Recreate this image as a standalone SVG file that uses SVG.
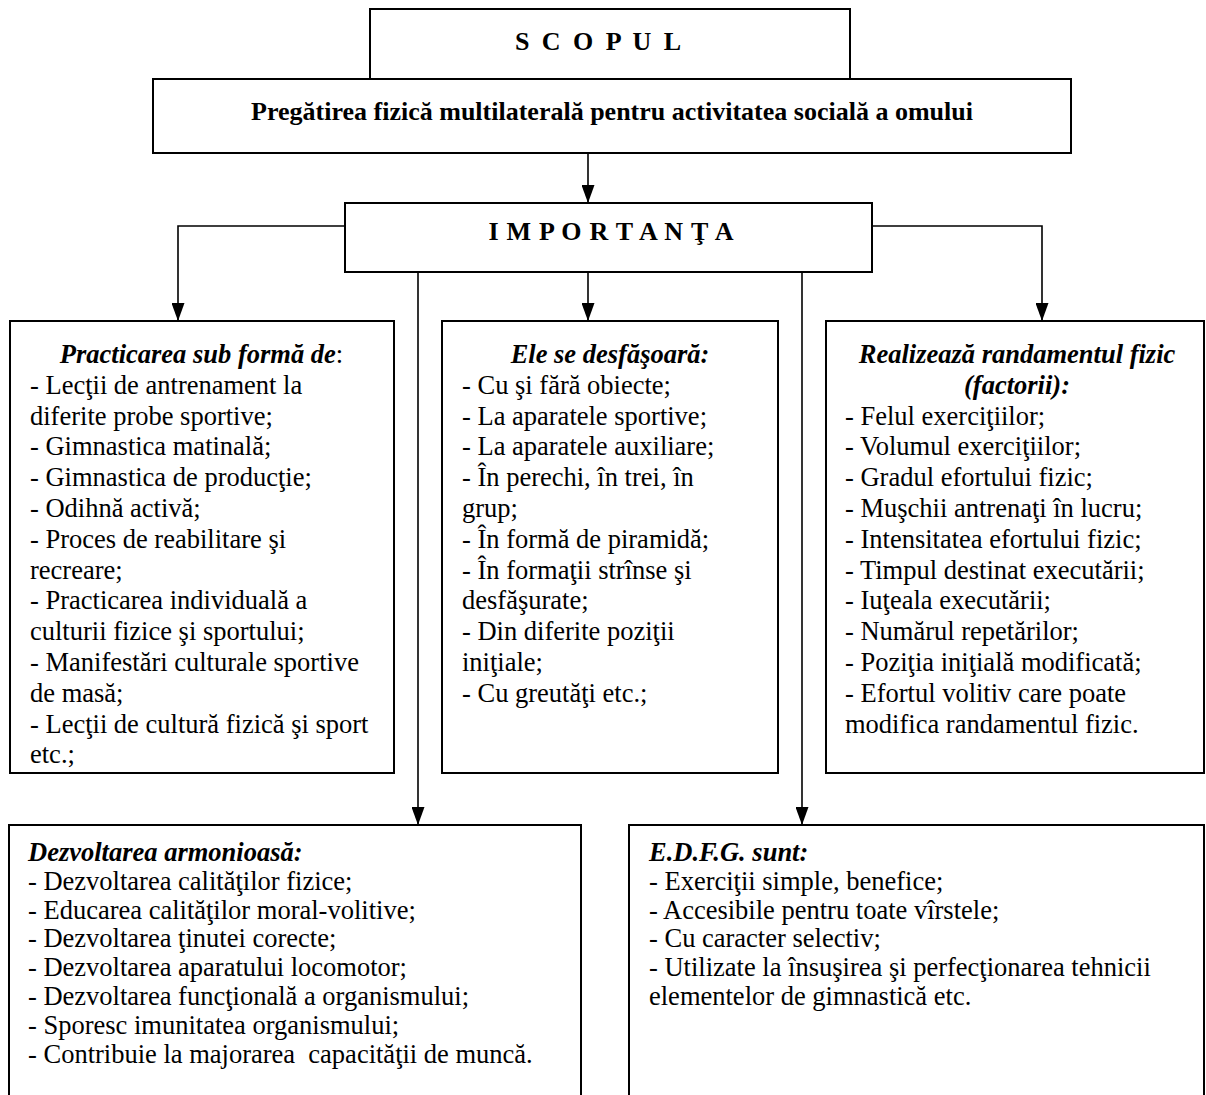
<svg xmlns="http://www.w3.org/2000/svg" width="1206" height="1095" viewBox="0 0 1206 1095">
<style>
  .box { fill: #fff; stroke: #000; stroke-width: 2; }
  .con { fill: none; stroke: #000; stroke-width: 1.6; }
  text { font-family: "Liberation Serif", "Times New Roman", serif; font-size: 26.5px; fill: #000; }
  .hd { font-weight: bold; font-size: 26px; }
  .ti { font-weight: bold; font-style: italic; }
  .rg { font-weight: normal; font-style: normal; }
</style>
<defs>
  <marker id="arr" viewBox="0 0 18 13" refX="18" refY="6.5" markerWidth="18" markerHeight="13" markerUnits="userSpaceOnUse" orient="auto">
    <path d="M0,0 L18,6.5 L0,13 z" fill="#000"/>
  </marker>
</defs>

<g id="connectors">
  <line class="con" x1="588" y1="153" x2="588" y2="203" marker-end="url(#arr)"/>
  <path class="con" d="M345,226 H178 V321" marker-end="url(#arr)"/>
  <path class="con" d="M872,226 H1042 V321" marker-end="url(#arr)"/>
  <line class="con" x1="588" y1="272" x2="588" y2="321" marker-end="url(#arr)"/>
  <line class="con" x1="418" y1="272" x2="418" y2="825" marker-end="url(#arr)"/>
  <line class="con" x1="802" y1="272" x2="802" y2="825" marker-end="url(#arr)"/>
</g>

<g id="scopul">
  <rect class="box" x="370" y="9" width="480" height="70"/>
  <text class="hd" x="598" y="50" text-anchor="middle" textLength="166" lengthAdjust="spacing">S C O P U L</text>
</g>

<g id="pregatirea">
  <rect class="box" x="153" y="79" width="918" height="74"/>
  <text class="hd" x="612" y="120" text-anchor="middle">Pregătirea fizică multilaterală pentru activitatea socială a omului</text>
</g>

<g id="importanta">
  <rect class="box" x="345" y="203" width="527" height="69"/>
  <text class="hd" x="611" y="240" text-anchor="middle" textLength="245" lengthAdjust="spacing">I M P O R T A N Ţ A</text>
</g>

<g id="practicarea">
  <rect class="box" x="10" y="321" width="384" height="452"/>
  <text x="201.5" y="363" text-anchor="middle"><tspan class="ti">Practicarea sub formă de</tspan><tspan class="rg">:</tspan></text>
  <text x="30" y="393.8">
    <tspan x="30" y="393.8">- Lecţii de antrenament la</tspan>
    <tspan x="30" y="424.6">diferite probe sportive;</tspan>
    <tspan x="30" y="455.4">- Gimnastica matinală;</tspan>
    <tspan x="30" y="486.2">- Gimnastica de producţie;</tspan>
    <tspan x="30" y="517">- Odihnă activă;</tspan>
    <tspan x="30" y="547.8">- Proces de reabilitare şi</tspan>
    <tspan x="30" y="578.6">recreare;</tspan>
    <tspan x="30" y="609.4">- Practicarea individuală a</tspan>
    <tspan x="30" y="640.2">culturii fizice şi sportului;</tspan>
    <tspan x="30" y="671">- Manifestări culturale sportive</tspan>
    <tspan x="30" y="701.8">de masă;</tspan>
    <tspan x="30" y="732.6">- Lecţii de cultură fizică şi sport</tspan>
    <tspan x="30" y="763.4">etc.;</tspan>
  </text>
</g>

<g id="desfasoara">
  <rect class="box" x="442" y="321" width="336" height="452"/>
  <text class="ti" x="610" y="363" text-anchor="middle">Ele se desfăşoară:</text>
  <text x="462" y="393.8">
    <tspan x="462" y="393.8">- Cu şi fără obiecte;</tspan>
    <tspan x="462" y="424.6">- La aparatele sportive;</tspan>
    <tspan x="462" y="455.4">- La aparatele auxiliare;</tspan>
    <tspan x="462" y="486.2">- În perechi, în trei, în</tspan>
    <tspan x="462" y="517">grup;</tspan>
    <tspan x="462" y="547.8">- În formă de piramidă;</tspan>
    <tspan x="462" y="578.6">- În formaţii strînse şi</tspan>
    <tspan x="462" y="609.4">desfăşurate;</tspan>
    <tspan x="462" y="640.2">- Din diferite poziţii</tspan>
    <tspan x="462" y="671">iniţiale;</tspan>
    <tspan x="462" y="701.8">- Cu greutăţi etc.;</tspan>
  </text>
</g>

<g id="randament">
  <rect class="box" x="826" y="321" width="378" height="452"/>
  <text class="ti" x="1017" y="363" text-anchor="middle">Realizează randamentul fizic</text>
  <text class="ti" x="1017" y="393.8" text-anchor="middle">(factorii):</text>
  <text x="845" y="424.6">
    <tspan x="845" y="424.6">- Felul exerciţiilor;</tspan>
    <tspan x="845" y="455.4">- Volumul exerciţiilor;</tspan>
    <tspan x="845" y="486.2">- Gradul efortului fizic;</tspan>
    <tspan x="845" y="517">- Muşchii antrenaţi în lucru;</tspan>
    <tspan x="845" y="547.8">- Intensitatea efortului fizic;</tspan>
    <tspan x="845" y="578.6">- Timpul destinat executării;</tspan>
    <tspan x="845" y="609.4">- Iuţeala executării;</tspan>
    <tspan x="845" y="640.2">- Numărul repetărilor;</tspan>
    <tspan x="845" y="671">- Poziţia iniţială modificată;</tspan>
    <tspan x="845" y="701.8">- Efortul volitiv care poate</tspan>
    <tspan x="845" y="732.6">modifica randamentul fizic.</tspan>
  </text>
</g>

<g id="dezvoltarea">
  <rect class="box" x="9" y="825" width="572" height="290"/>
  <text class="ti" x="28" y="861">Dezvoltarea armonioasă:</text>
  <text x="28" y="889.8" xml:space="preserve"><tspan x="28" y="889.8">- Dezvoltarea calităţilor fizice;</tspan><tspan x="28" y="918.6">- Educarea calităţilor moral-volitive;</tspan><tspan x="28" y="947.4">- Dezvoltarea ţinutei corecte;</tspan><tspan x="28" y="976.2">- Dezvoltarea aparatului locomotor;</tspan><tspan x="28" y="1005">- Dezvoltarea funcţională a organismului;</tspan><tspan x="28" y="1033.8">- Sporesc imunitatea organismului;</tspan><tspan x="28" y="1062.6">- Contribuie la majorarea  capacităţii de muncă.</tspan></text>
</g>

<g id="edfg">
  <rect class="box" x="629" y="825" width="575" height="290"/>
  <text class="ti" x="649" y="861">E.D.F.G. sunt:</text>
  <text x="649" y="889.8">
    <tspan x="649" y="889.8">- Exerciţii simple, benefice;</tspan>
    <tspan x="649" y="918.6">- Accesibile pentru toate vîrstele;</tspan>
    <tspan x="649" y="947.4">- Cu caracter selectiv;</tspan>
    <tspan x="649" y="976.2">- Utilizate la însuşirea şi perfecţionarea tehnicii</tspan>
    <tspan x="649" y="1005">elementelor de gimnastică etc.</tspan>
  </text>
</g>
</svg>
